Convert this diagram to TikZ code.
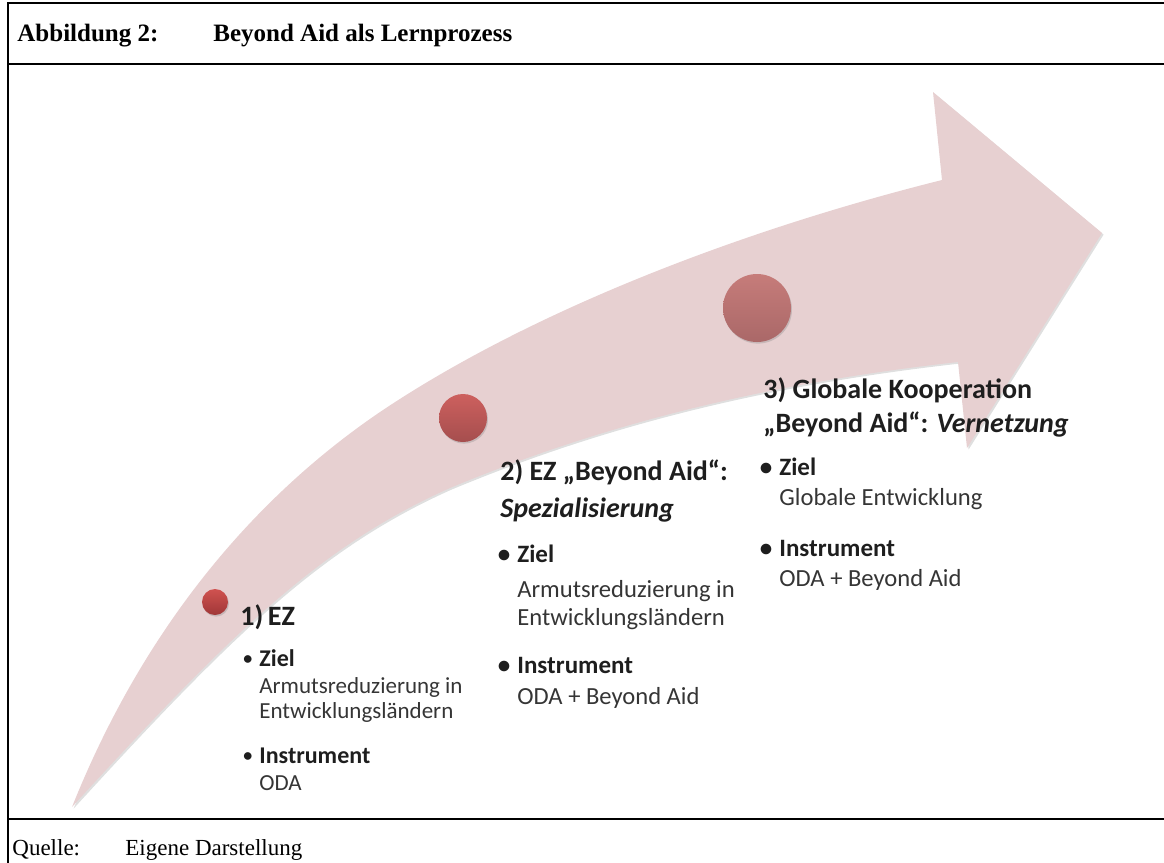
\documentclass[tikz,border=0pt]{standalone}
\usepackage{fontspec}
\setmainfont{Liberation Serif}
\newfontfamily\calibri{Carlito}
\usetikzlibrary{shadows}

\definecolor{arrowpink}{RGB}{231,208,209}
\definecolor{dotAtop}{RGB}{208,82,80}
\definecolor{dotAbot}{RGB}{160,55,55}
\definecolor{dotBtop}{RGB}{205,96,94}
\definecolor{dotBbot}{RGB}{165,78,78}
\definecolor{dotCtop}{RGB}{198,124,122}
\definecolor{dotCbot}{RGB}{170,104,104}
\definecolor{inkgray}{RGB}{30,30,30}

\tikzset{
  frameline/.style={line width=1pt},
  caption/.style={anchor=base west, inner sep=0pt, font=\bfseries\fontsize{12.5}{15}\selectfont},
  source/.style={anchor=base west, inner sep=0pt, font=\fontsize{11.5}{14}\selectfont},
  dot/.style={circle, inner sep=0pt, drop shadow={opacity=0.3, shadow xshift=0.5pt, shadow yshift=-0.8pt}},
  head/.style={anchor=base west, inner sep=0pt, text=inkgray, font=\calibri\bfseries\fontsize{14}{17}\selectfont},
  label/.style={anchor=base west, inner sep=0pt, text=inkgray, font=\calibri\bfseries\fontsize{12.5}{15}\selectfont},
  labelsmall/.style={label, font=\calibri\bfseries\fontsize{12}{14}\selectfont},
  txt/.style={anchor=base west, inner sep=0pt, text=inkgray!90, font=\calibri\fontsize{12.3}{15}\selectfont},
  txtsmall/.style={txt, font=\calibri\fontsize{11.5}{14}\selectfont},
}
\newcommand{\bul}{\llap{•\hspace{3.5pt}}}
\newcommand{\bulsmall}{\llap{\raisebox{1pt}{\fontsize{9}{9}\selectfont•}\hspace{3.5pt}}}

\begin{document}
\begin{tikzpicture}[x=0.5pt,y=-0.5pt]
\useasboundingbox (0,0) rectangle (1164,863);

% frame of the figure
\draw[frameline] (1164,3) -- (8,3) -- (8,863);
\draw[frameline] (8,64) -- (1164,64);
\draw[frameline] (8,819) -- (1164,819);

\node (fig) [caption] at (17,41) {Abbildung 2:};
\node (title) [caption] at (213,41) {Beyond Aid als Lernprozess};
\node (src) [source] at (12,855) {Quelle:};
\node (srctext) [source] at (125,855) {Eigene Darstellung};

% the big curved arrow
\fill[arrowpink, drop shadow={opacity=0.25, shadow xshift=0.8pt, shadow yshift=-0.8pt}]
  (72,807) .. controls (152,607) and (273,484) .. (383,410)
  .. controls (533,310) and (742,230) .. (942,180)
  -- (933,92) -- (1102,233) -- (967,448) -- (958,362)
  .. controls (788,381) and (620,417) .. (450,488)
  .. controls (320,546) and (232,632) .. (72,807)
  -- cycle;

% stages
\node (p1) [dot, minimum size=13pt, top color=dotAtop, bottom color=dotAbot] at (215,602) {};
\node (p2) [dot, minimum size=24pt, top color=dotBtop, bottom color=dotBbot] at (463,418) {};
\node (p3) [dot, minimum size=34pt, top color=dotCtop, bottom color=dotCbot] at (757,308) {};

% stage 1
\node (h1) [head] at (240,625) {1)\,EZ};
\node (z1) [labelsmall] at (259,666) {\bulsmall Ziel};
\node (z1a) [txtsmall] at (259,693) {Armutsreduzierung in};
\node (z1b) [txtsmall] at (259,718) {Entwicklungsländern};
\node (i1) [labelsmall] at (259,763) {\bulsmall Instrument};
\node (i1a) [txtsmall] at (259,790) {ODA};

% stage 2
\node (h2) [head] at (500,480) {2) EZ „Beyond Aid“:};
\node (h2b) [head] at (500,517) {\itshape Spezialisierung};
\node (z2) [label] at (517,562) {\bul Ziel};
\node (z2a) [txt] at (517,597) {Armutsreduzierung in};
\node (z2b) [txt] at (517,625) {Entwicklungsländern};
\node (i2) [label] at (517,673) {\bul Instrument};
\node (i2a) [txt] at (517,704) {ODA + Beyond Aid};

% stage 3
\node (h3) [head] at (763,398) {3) Globale Kooperation};
\node (h3b) [head] at (763,432) {„Beyond Aid“: \textit{Vernetzung}};
\node (z3) [label] at (779,475) {\bul Ziel};
\node (z3a) [txt] at (779,505) {Globale Entwicklung};
\node (i3) [label] at (779,556) {\bul Instrument};
\node (i3a) [txt] at (779,586) {ODA + Beyond Aid};
\end{tikzpicture}
\end{document}
